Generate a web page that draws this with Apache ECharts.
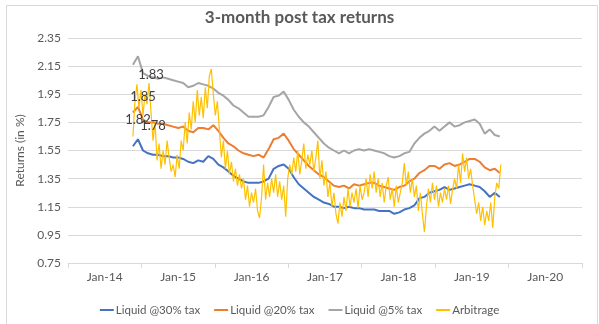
<!DOCTYPE html>
<html>
<head>
<meta charset="utf-8">
<script src="https://cdn.jsdelivr.net/npm/echarts@6/dist/echarts.min.js"></script>
<style>html,body{margin:0;padding:0;background:#fff}#c{width:599px;height:324px}</style>
</head>
<body>
<div id="c"></div>
<script>
// X axis tick labels (yearly bands)
const yearLabels = ['Jan-14','Jan-15','Jan-16','Jan-17','Jan-18','Jan-19','Jan-20'];
// Sampling: first observation and spacing (days) of each series
const startDate = '2014-05-20';
const liquidStepDays = 25;
const arbStepDays = 10;

const liquid30 = [1.58,1.63,1.55,1.53,1.52,1.52,1.51,1.51,1.50,1.50,1.49,1.47,1.46,1.48,1.47,1.51,1.49,1.45,1.43,1.40,
1.37,1.35,1.33,1.32,1.32,1.32,1.33,1.35,1.42,1.44,1.45,1.42,1.36,1.31,1.28,1.25,1.22,1.20,1.18,1.17,
1.15,1.15,1.14,1.15,1.14,1.14,1.13,1.13,1.13,1.12,1.12,1.12,1.10,1.11,1.13,1.14,1.16,1.21,1.22,1.25,
1.26,1.27,1.29,1.27,1.28,1.29,1.30,1.31,1.30,1.29,1.26,1.22,1.25,1.22];

const liquid20 = [1.82,1.86,1.77,1.75,1.75,1.74,1.74,1.73,1.72,1.71,1.72,1.69,1.68,1.71,1.71,1.70,1.73,1.69,1.64,1.60,
1.58,1.55,1.53,1.52,1.51,1.52,1.50,1.56,1.63,1.64,1.67,1.62,1.56,1.52,1.48,1.44,1.41,1.38,1.36,1.33,
1.30,1.29,1.30,1.28,1.31,1.30,1.31,1.32,1.32,1.30,1.29,1.28,1.27,1.29,1.30,1.33,1.35,1.39,1.41,1.44,
1.44,1.42,1.45,1.46,1.44,1.45,1.47,1.49,1.49,1.47,1.43,1.41,1.42,1.39];

const liquid5 = [2.16,2.22,2.10,2.08,2.07,2.06,2.07,2.06,2.05,2.04,2.03,2.00,2.01,2.03,2.02,2.01,1.99,1.96,1.94,1.91,
1.87,1.85,1.82,1.79,1.79,1.79,1.80,1.86,1.93,1.94,1.97,1.91,1.84,1.79,1.75,1.72,1.68,1.64,1.60,1.57,
1.55,1.53,1.55,1.53,1.55,1.56,1.55,1.56,1.55,1.54,1.53,1.51,1.50,1.51,1.53,1.54,1.60,1.64,1.67,1.69,
1.72,1.69,1.72,1.75,1.72,1.73,1.75,1.76,1.77,1.74,1.67,1.70,1.66,1.65];

const arbitrage = [1.65,1.90,2.02,1.85,1.98,1.80,1.95,1.88,2.03,1.82,
1.62,1.75,1.48,1.60,1.42,1.55,1.45,1.62,1.50,1.40,
1.45,1.36,1.52,1.42,1.62,1.55,1.75,1.60,1.82,1.70,
1.90,1.75,1.98,1.80,1.93,1.78,2.00,1.85,2.08,2.13,
1.95,1.80,1.90,1.70,1.50,1.62,1.42,1.55,1.38,1.47,
1.33,1.42,1.30,1.38,1.28,1.35,1.20,1.30,1.15,1.25,
1.18,1.28,1.12,1.07,1.22,1.45,1.20,1.32,1.22,1.35,
1.25,1.38,1.22,1.33,1.20,1.30,1.08,1.35,1.45,1.38,
1.50,1.40,1.55,1.38,1.48,1.60,1.42,1.52,1.45,1.55,
1.40,1.50,1.62,1.35,1.48,1.30,1.40,1.22,1.32,1.15,
1.25,1.10,1.03,1.18,1.08,1.22,1.12,1.28,1.15,1.25,
1.18,1.28,1.14,1.30,1.20,1.25,1.35,1.22,1.38,1.28,
1.40,1.25,1.35,1.22,1.32,1.18,1.30,1.36,1.20,1.28,
1.15,1.30,1.18,1.25,1.32,1.46,1.30,1.40,1.25,1.35,
1.22,1.30,1.12,1.25,1.10,0.97,1.15,1.28,1.18,1.32,
1.20,1.30,1.15,1.25,1.18,1.28,1.20,1.30,1.17,1.27,
1.35,1.28,1.45,1.32,1.53,1.40,1.50,1.35,1.42,1.30,
1.20,1.10,1.18,1.05,1.15,1.02,1.12,1.05,1.18,1.00,
1.22,1.32,1.28,1.45];

const pointLabels = ['1.83','1.85','1.82','1.78'];

const DAY = 86400000;
const t0 = new Date(startDate + 'T00:00:00Z').getTime();
function pair(vals, step) { return vals.map((v, i) => [t0 + i * step * DAY, v]); }

const chart = echarts.init(document.getElementById('c'), null, {renderer: 'canvas'});
const txt = '#595959';
const fontFam = 'Lato, "Open Sans", sans-serif';
chart.setOption({
  animation: false,
  backgroundColor: '#fff',
  textStyle: {fontFamily: fontFam},
  title: {
    text: '3-month post tax returns', left: 'center', top: 4,
    textStyle: {fontSize: 17, fontWeight: 'bold', color: txt, fontFamily: fontFam}
  },
  grid: {left: 68, right: 17, top: 38, bottom: 61, containLabel: false},
  legend: {
    top: 299, left: 'center', itemWidth: 14, itemHeight: 2, itemGap: 14, icon: 'rect',
    textStyle: {fontSize: 11.5, color: txt, padding: [0, 0, 0, -3]},
    data: ['Liquid @30% tax', 'Liquid @20% tax', 'Liquid @5% tax', 'Arbitrage']
  },
  xAxis: [{
    type: 'category', data: yearLabels, boundaryGap: true,
    axisLine: {lineStyle: {color: '#D9D9D9'}},
    axisTick: {show: true, length: 5, lineStyle: {color: '#D9D9D9'}},
    axisLabel: {color: txt, fontSize: 12, margin: 8},
    splitLine: {show: false}
  }, {
    type: 'time', min: '2013-07-01', max: '2020-07-01', show: false
  }],
  yAxis: {
    type: 'value', min: 0.75, max: 2.35, interval: 0.2,
    name: 'Returns (in %)', nameLocation: 'middle', nameGap: 42, nameRotate: 90,
    nameTextStyle: {color: txt, fontSize: 12},
    axisLine: {show: false}, axisTick: {show: false},
    axisLabel: {color: txt, fontSize: 12, margin: 7, formatter: v => v.toFixed(2)},
    splitLine: {lineStyle: {color: '#D9D9D9'}}
  },
  series: [
    {name: 'Liquid @30% tax', type: 'line', xAxisIndex: 1, data: pair(liquid30, liquidStepDays), showSymbol: false, symbol: 'none', color: '#4472C4', lineStyle: {width: 2}},
    {name: 'Liquid @20% tax', type: 'line', xAxisIndex: 1, data: pair(liquid20, liquidStepDays), showSymbol: false, symbol: 'none', color: '#ED7D31', lineStyle: {width: 2}},
    {name: 'Liquid @5% tax', type: 'line', xAxisIndex: 1, data: pair(liquid5, liquidStepDays), showSymbol: false, symbol: 'none', color: '#A5A5A5', lineStyle: {width: 2}},
    {name: 'Arbitrage', type: 'line', xAxisIndex: 1, data: pair(arbitrage, arbStepDays), showSymbol: false, symbol: 'none', color: '#FFC000', lineStyle: {width: 1.2}}
  ],
  graphic: [
    {type: 'rect', left: 4, top: 3, z: -10, shape: {width: 591, height: 330}, style: {fill: 'none', stroke: '#D9D9D9', lineWidth: 1}},
    {type: 'text', x: 151, y: 75, z: 100, style: {text: pointLabels[0], font: '13px ' + fontFam, fill: '#404040', textAlign: 'center', textVerticalAlign: 'middle'}},
    {type: 'text', x: 143, y: 97, z: 100, style: {text: pointLabels[1], font: '13px ' + fontFam, fill: '#404040', textAlign: 'center', textVerticalAlign: 'middle'}},
    {type: 'text', x: 138, y: 120, z: 100, style: {text: pointLabels[2], font: '13px ' + fontFam, fill: '#404040', textAlign: 'center', textVerticalAlign: 'middle'}},
    {type: 'text', x: 153, y: 126, z: 100, style: {text: pointLabels[3], font: '13px ' + fontFam, fill: '#404040', textAlign: 'center', textVerticalAlign: 'middle'}}
  ]
});
</script>
</body>
</html>
